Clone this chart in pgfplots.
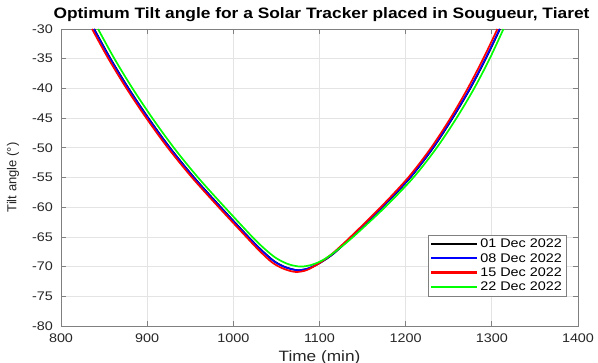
\documentclass[border=0pt]{standalone}
\usepackage{pgfplots}
\pgfplotsset{compat=1.18}
\usepackage{fontspec}
\setmainfont[FakeStretch=1.15]{Liberation Sans}
\newfontfamily\plainsans{Liberation Sans}
\definecolor{gridgray}{RGB}{228,228,228}
\definecolor{axgray}{RGB}{128,128,128}
\definecolor{mygreen}{RGB}{0,255,0}
\begin{document}
\begin{tikzpicture}
\begin{axis}[
  scale only axis,
  width=517pt, height=297pt,
  xmin=800, xmax=1400, ymin=-80, ymax=-30,
  xtick={800,900,...,1400}, ytick={-80,-75,...,-30},
  grid=major,
  major grid style={gridgray, line width=0.7pt},
  axis line style={axgray, line width=0.9pt},
  tick style={axgray, line width=0.7pt},
  tick align=inside,
  major tick length=5pt,
  ticklabel style={font=\fontsize{12.5}{14}\selectfont, text=black!85, inner sep=0pt},
  xticklabel style={anchor=base, yshift=-17pt},
  yticklabel style={anchor=east, xshift=-8pt},
  /pgf/number format/assume math mode=true,
  /pgf/number format/1000 sep={},
  xlabel={Time (min)},
  ylabel={Tilt angle (°)},
  xlabel style={font=\fontsize{15}{17}\selectfont, text=black!85, at={(axis description cs:0.5,-0.118)}, anchor=base, inner sep=0pt},
  ylabel style={font=\plainsans\fontsize{13}{15}\selectfont, text=black!85, at={(axis description cs:-0.0928,0.5)}, anchor=center, inner sep=0pt},
  title={\textbf{Optimum Tilt angle for a Solar Tracker placed in Sougueur, Tiaret}},
  title style={font=\fontsize{15.1}{17}\selectfont, at={(axis description cs:0.5,1)}, anchor=base, yshift=4pt, xshift=2pt, inner sep=0pt},
  legend style={at={(axis description cs:0.977,0.1)}, anchor=south east, draw=axgray,
    font=\fontsize{12.5}{13.5}\selectfont, inner xsep=2pt, inner ysep=2pt},
  legend cell align=left,
  legend image code/.code={\draw[#1, line width=2.3pt] (0pt,0.3pt) -- (46pt,0.3pt);},
  every axis plot/.append style={line width=1.7pt},
]
\addplot[black, smooth] coordinates {
(838.5,-30)(857.5,-35)(878.5,-40)(901.5,-45)(926.5,-50)(954.5,-55)(985.5,-60)(1017.5,-65)(1032.5,-67.2)(1047.5,-69.1)(1060.5,-70.1)(1074.5,-70.6)(1087.5,-70.3)(1101.5,-69.3)(1116.5,-67.8)(1137.5,-65)(1173,-60)(1205.5,-55)(1232,-50)(1254.5,-45)(1275,-40)(1293,-35)(1309.5,-30)};
\addlegendentry{01 Dec 2022}
\addplot[blue, smooth] coordinates {
(838,-30)(857,-35)(878,-40)(901,-45)(926,-50)(954,-55)(985,-60)(1017,-65)(1032,-67.2)(1047,-69.1)(1060,-70.1)(1074,-70.6)(1087,-70.3)(1101,-69.3)(1116,-67.8)(1137,-65)(1172.5,-60)(1205,-55)(1231.5,-50)(1254,-45)(1274.5,-40)(1292.5,-35)(1309,-30)};
\addlegendentry{08 Dec 2022}
\addplot[red, smooth] coordinates {
(836,-30)(855,-35)(876,-40)(899,-45)(924,-50)(952,-55)(983,-60)(1015,-65)(1030,-67.3)(1045,-69.3)(1058,-70.35)(1072,-70.9)(1085,-70.6)(1100,-69.4)(1115,-67.8)(1136,-65)(1171,-60)(1203,-55)(1229.5,-50)(1252,-45)(1272,-40)(1290,-35)(1306.5,-30)};
\addlegendentry{15 Dec 2022}
\addplot[mygreen, smooth] coordinates {
(843,-30)(862,-35)(883,-40)(906,-45)(931,-50)(959,-55)(990,-60)(1022,-65)(1037,-67.1)(1050,-68.6)(1064,-69.6)(1078,-70.0)(1091,-69.7)(1104,-68.9)(1118,-67.5)(1139,-65)(1176,-60)(1209,-55)(1236,-50)(1259,-45)(1279.5,-40)(1297.5,-35)(1313.5,-30)};
\addlegendentry{22 Dec 2022}
\end{axis}
\pgfresetboundingbox
\path[use as bounding box] (-61pt,-37pt) rectangle (537pt,326pt);
\end{tikzpicture}
\end{document}
